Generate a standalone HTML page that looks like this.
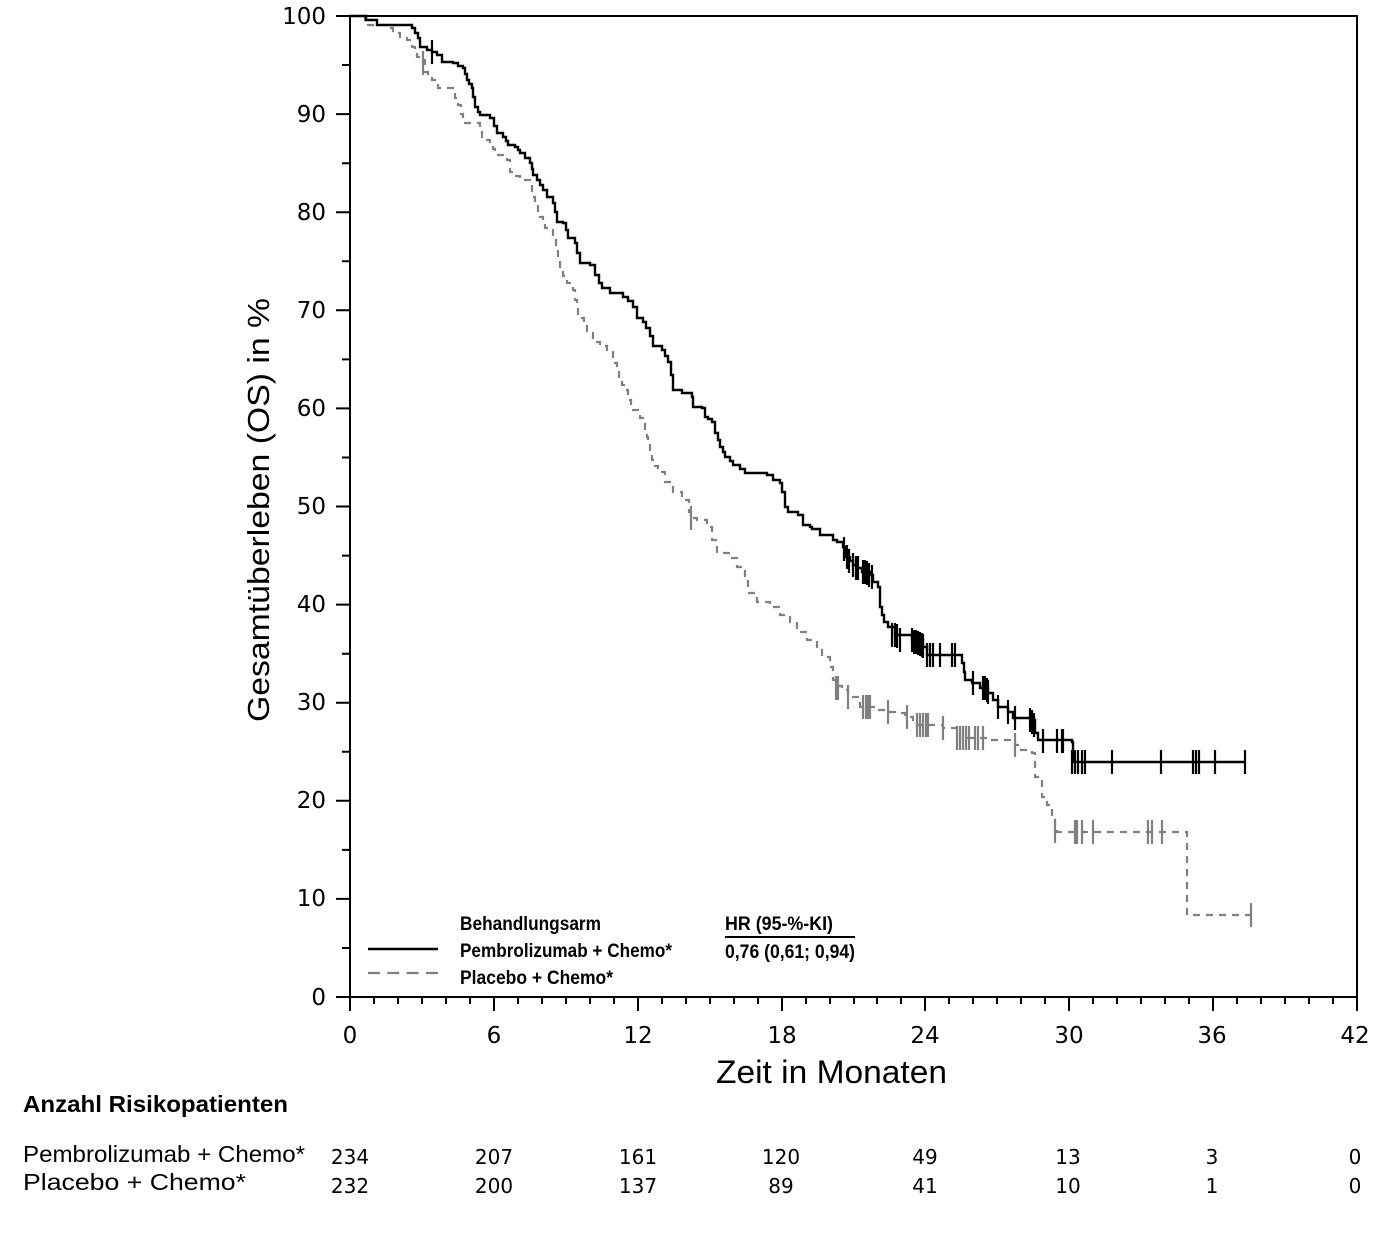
<!DOCTYPE html>
<html>
<head>
<meta charset="utf-8">
<style>
html,body{margin:0;padding:0;background:#fff;}
svg{display:block;}
.tl{font-family:"DejaVu Sans","Liberation Sans",sans-serif;font-size:23px;fill:#000;}
.lg{font-family:"Liberation Sans",sans-serif;font-size:19px;font-weight:bold;fill:#000;}
.rt{font-family:"Liberation Sans",sans-serif;font-size:23px;fill:#000;}
.rn{font-family:"DejaVu Sans","Liberation Sans",sans-serif;font-size:20px;fill:#000;}
</style>
</head>
<body>
<svg width="1376" height="1242" viewBox="0 0 1376 1242" xmlns="http://www.w3.org/2000/svg">
<rect width="1376" height="1242" fill="#fff"/>

<!-- frame -->
<path d="M350,16H1357V997M350,16V1011M350,997H1357" fill="none" stroke="#000" stroke-width="2"/>
<!-- y ticks -->
<path d="M336,16H350M336,114.1H350M336,212.2H350M336,310.3H350M336,408.4H350M336,506.5H350M336,604.6H350M336,702.7H350M336,800.8H350M336,898.9H350M336,997H350
M342,65H350M342,163.2H350M342,261.3H350M342,359.4H350M342,457.5H350M342,555.6H350M342,653.7H350M342,751.8H350M342,849.9H350M342,948H350" stroke="#000" stroke-width="2"/>
<!-- x ticks -->
<path d="M350,997v14M494,997v14M638,997v14M782,997v14M925,997v14M1069,997v14M1213,997v14M1357,997v14
M374,997v7M398,997v7M422,997v7M446,997v7M470,997v7M518,997v7M542,997v7M566,997v7M590,997v7M614,997v7M662,997v7M686,997v7M710,997v7M734,997v7M758,997v7M806,997v7M830,997v7M854,997v7M877,997v7M901,997v7M949,997v7M973,997v7M997,997v7M1021,997v7M1045,997v7M1093,997v7M1117,997v7M1141,997v7M1165,997v7M1189,997v7M1237,997v7M1261,997v7M1285,997v7M1309,997v7M1333,997v7" stroke="#000" stroke-width="2"/>

<!-- y tick labels -->
<g class="tl" text-anchor="end">
<text x="326" y="24">100</text>
<text x="326" y="122">90</text>
<text x="326" y="220">80</text>
<text x="326" y="318">70</text>
<text x="326" y="416">60</text>
<text x="326" y="514">50</text>
<text x="326" y="612">40</text>
<text x="326" y="710">30</text>
<text x="326" y="808">20</text>
<text x="326" y="906">10</text>
<text x="326" y="1005">0</text>
</g>
<!-- x tick labels -->
<g class="tl" text-anchor="middle">
<text x="350" y="1043">0</text>
<text x="494" y="1043">6</text>
<text x="638" y="1043">12</text>
<text x="782" y="1043">18</text>
<text x="925" y="1043">24</text>
<text x="1069" y="1043">30</text>
<text x="1212" y="1043">36</text>
<text x="1355" y="1043">42</text>
</g>

<!-- axis titles -->
<text x="0" y="0" transform="translate(269,510) rotate(-90)" text-anchor="middle" font-family="Liberation Sans, sans-serif" font-size="31" textLength="424" lengthAdjust="spacingAndGlyphs">Gesamtüberleben (OS) in %</text>
<text x="716" y="1083" font-family="Liberation Sans, sans-serif" font-size="32" textLength="231" lengthAdjust="spacingAndGlyphs">Zeit in Monaten</text>

<!-- gray dashed curve -->
<path d="M350,16H365V20H367V25H387V28H393V31H397V33H400V37H407V40H412V47H415V52H417V57H422V60H425V72H428V76H432V80H435V84H438V88H453V90H455V98H458V105H461V114H463V123H480V127H482V140H490V143H493V149H495V155H507V160H510V172H515V176H520V180H530V182H532V197H535V205H538V211H540V217H543V223H545V228H550V230H553V240H556V250H558V258H560V267H563V276H567V283H573V290H575V300H577V303H578V317H582V318H584V325H587V333H593V338H595V342H600V346H607V352H613V357H615V363H617V372H619V378H622V385H627V390H628V400H631V405H633V410H640V418H643V424H645V430H647V437H648V443H650V451H652V460H655V466H658V472H665V482H673V492H682V500H689V512H691V518H697V520H707V527H712V540H717V553H730V558H737V567H745V577H748V593H757V602H770V607H780V615H790V622H797V632H807V640H817V647H822V657H830V667H833V680H838V686H842V690H848V697H860V707H877V710H888V712H895V713H905V717H913V721H917V725H943V728H957V733H960V738H990V740H1015V745H1018V750H1032V753H1035V777H1042V797H1047V805H1052V817H1055V825H1057V832H1187V915H1251" fill="none" stroke="#808080" stroke-width="2.2" stroke-dasharray="7,6"/>
<!-- gray censor ticks -->
<path d="M423,51v24M691,506v24M836,676v24M838,676v24M848,685v24M863,695v24M866,695v24M868,695v24M870,695v24M888,700v24M907,705v24M917,713v24M920,713v24M923,713v24M926,713v24M928,713v24M943,716v24M957,726v24M960,726v24M963,726v24M966,726v24M969,726v24M975,726v24M978,726v24M983,726v24M1015,733v24M1055,819v24M1075,820v24M1077,820v24M1082,820v24M1093,820v24M1148,820v24M1152,820v24M1162,820v24M1251,903v24" stroke="#808080" stroke-width="2.2"/>

<!-- black curve -->
<path d="M350,16H366V20H377V25H412V28H415V33H418V38H420V47H427V50H432V52H437V55H442V62H453V63H458V66H463V68H465V74H467V80H469V84H472V88H473V97H475V107H478V112H480V115H490V118H494V126H497V133H503V137H506V141H508V145H515V147H518V150H520V153H525V158H530V163H532V169H533V175H537V180H540V185H543V190H547V197H553V203H555V212H557V222H563V223H566V230H568V238H575V243H577V253H580V263H590V265H595V275H599V283H602V288H610V293H623V297H628V301H633V307H637V318H643V322H646V328H650V336H653V346H662V350H665V356H668V362H671V375H673V390H682V393H692V397H693V407H702V408H705V417H708V419H712V422H715V433H718V440H720V447H723V452H725V457H730V461H733V465H740V469H745V473H767V475H773V480H780V483H782V492H785V507H788V512H798V515H803V525H810V527H812V529H820V535H833V540H837V542H843V547H846V557H850V561H853V565H857V568H862V572H870V575H873V582H878V587H880V607H882V615H884V622H888V627H895V635H912V640H923V647H927V655H962V663H964V672H965V680H972V683H980V688H988V693H993V700H998V707H1008V712H1013V718H1032V720H1035V733H1038V740H1072V742H1073V762H1245" fill="none" stroke="#000" stroke-width="2.4"/>
<!-- black censor ticks -->
<path d="M432,40v24M844,537v24M847,545v24M849,549v24M853,553v24M856,556v24M858,556v24M863,560v24M865,560v24M867,561v24M869,563v24M872,565v24M892,623v24M895,623v24M897,624v24M900,628v24M912,628v24M914,630v24M916,630v24M918,631v24M920,632v24M922,633v24M923,634v24M927,643v24M930,643v24M933,643v24M940,643v24M952,643v24M955,643v24M973,671v24M983,676v24M985,676v24M987,678v24M988,680v24M998,695v24M1008,700v24M1015,706v24M1030,708v24M1032,710v24M1034,713v24M1043,729v24M1057,729v24M1062,729v24M1063,729v24M1072,750v24M1075,750v24M1078,750v24M1082,750v24M1085,750v24M1112,750v24M1161,750v24M1193,750v24M1196,750v24M1199,750v24M1215,750v24M1245,750v24" stroke="#000" stroke-width="2.2"/>

<!-- legend -->
<text class="lg" x="460" y="930" textLength="141" lengthAdjust="spacingAndGlyphs">Behandlungsarm</text>
<text class="lg" x="460" y="957" textLength="212" lengthAdjust="spacingAndGlyphs">Pembrolizumab + Chemo*</text>
<text class="lg" x="460" y="984" textLength="153" lengthAdjust="spacingAndGlyphs">Placebo + Chemo*</text>
<line x1="368" y1="949" x2="438" y2="949" stroke="#000" stroke-width="2.4"/>
<line x1="368" y1="973" x2="438" y2="973" stroke="#808080" stroke-width="2.2" stroke-dasharray="12,7.3"/>
<text class="lg" x="725" y="930" textLength="108" lengthAdjust="spacingAndGlyphs">HR (95-%-KI)</text>
<line x1="725" y1="937" x2="855" y2="937" stroke="#000" stroke-width="2"/>
<text class="lg" x="725" y="958" textLength="130" lengthAdjust="spacingAndGlyphs">0,76 (0,61; 0,94)</text>

<!-- risk table -->
<text x="23" y="1112" font-family="Liberation Sans, sans-serif" font-weight="bold" font-size="23" textLength="265" lengthAdjust="spacingAndGlyphs">Anzahl Risikopatienten</text>
<text class="rt" x="23" y="1162" textLength="282" lengthAdjust="spacingAndGlyphs">Pembrolizumab + Chemo*</text>
<text class="rt" x="23" y="1190" textLength="223" lengthAdjust="spacingAndGlyphs">Placebo + Chemo*</text>
<g class="rn" text-anchor="middle">
<text x="350" y="1164">234</text>
<text x="494" y="1164">207</text>
<text x="638" y="1164">161</text>
<text x="781" y="1164">120</text>
<text x="925" y="1164">49</text>
<text x="1068" y="1164">13</text>
<text x="1212" y="1164">3</text>
<text x="1355" y="1164">0</text>
<text x="350" y="1193">232</text>
<text x="494" y="1193">200</text>
<text x="638" y="1193">137</text>
<text x="781" y="1193">89</text>
<text x="925" y="1193">41</text>
<text x="1068" y="1193">10</text>
<text x="1212" y="1193">1</text>
<text x="1355" y="1193">0</text>
</g>
</svg>
</body>
</html>
